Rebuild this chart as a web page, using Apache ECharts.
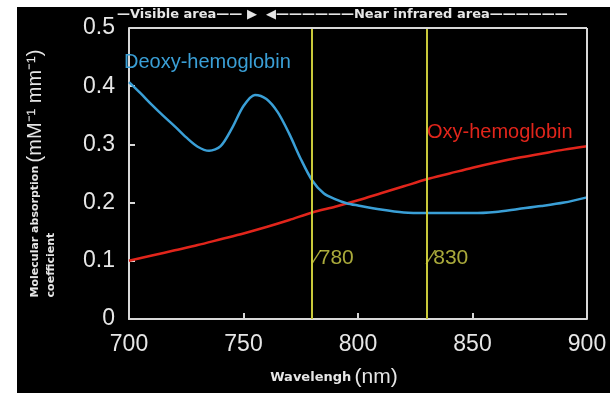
<!DOCTYPE html>
<html>
<head>
<meta charset="utf-8">
<script src="https://cdn.jsdelivr.net/npm/echarts@6/dist/echarts.min.js"></script>
<style>
  html, body { margin: 0; padding: 0; background: #fff; }
  #chart { position: absolute; left: 17px; top: 7px; width: 593px; height: 386px; background: #000; }
</style>
</head>
<body>
<div id="chart"></div>
<script>
// wavelength (nm)
const wlOxy = [700, 710, 720, 730, 740, 750, 760, 770, 780, 790, 800, 810, 820, 830, 840, 850, 860, 870, 880, 890, 900];
const oxyValues = [0.100, 0.109, 0.118, 0.127, 0.137, 0.147, 0.158, 0.170, 0.183, 0.193, 0.204, 0.216, 0.228, 0.240, 0.250, 0.260, 0.269, 0.277, 0.284, 0.291, 0.297];

const wlDeoxy = [700, 705, 710, 715, 720, 725, 730, 735, 740, 745, 750, 755, 760, 765, 770, 775, 780, 785, 790, 795, 800, 810, 820, 830, 840, 850, 860, 870, 880, 890, 900];
const deoxyValues = [0.407, 0.388, 0.368, 0.349, 0.331, 0.312, 0.296, 0.289, 0.297, 0.328, 0.366, 0.385, 0.378, 0.355, 0.318, 0.275, 0.238, 0.216, 0.206, 0.199, 0.195, 0.188, 0.183, 0.182, 0.182, 0.182, 0.184, 0.189, 0.194, 0.200, 0.209];

// marked wavelengths
const markWl = [780, 830];
// 边框上边/右边
const frameTop = 0.5;
const frameRight = 900;

const textColor = '#e6e6e6';
const frameColor = '#d8d8d8';
const yellow = '#c9c93a';
const boldFont = 'DejaVu Sans, sans-serif';

const chart = echarts.init(document.getElementById('chart'));

const option = {
  backgroundColor: '#000',
  animation: false,
  title: [
    {
      // 顶部区域说明
      text: '—Visible area—— ▶  ◀——————Near infrared area——————',
      left: 100, top: 1, padding: 0,
      textStyle: { color: textColor, fontSize: 13, fontWeight: 'bold', fontFamily: boldFont }
    },
    {
      text: 'Deoxy-hemoglobin',
      left: 107, top: 45, padding: 0,
      textStyle: { color: '#3a9fd6', fontSize: 20, fontWeight: 'normal', fontFamily: 'Liberation Sans, sans-serif' }
    },
    {
      text: 'Oxy-hemoglobin',
      left: 410, top: 115, padding: 0,
      textStyle: { color: '#e1251b', fontSize: 20, fontWeight: 'normal', fontFamily: 'Liberation Sans, sans-serif' }
    }
  ],
  grid: { left: 101, right: 23, top: 21, bottom: 74 },
  xAxis: {
    type: 'value', min: 700, max: 900, interval: 50,
    axisLine: { show: true, onZero: false, lineStyle: { color: frameColor, width: 2 } },
    axisTick: { show: true, inside: true, length: 6, lineStyle: { color: frameColor, width: 2 } },
    splitLine: { show: false },
    axisLabel: { color: textColor, fontSize: 23, margin: 14, fontFamily: 'Liberation Sans, Arial, sans-serif' },
    name: '{a|Wavelengh} {b|(nm)}',
    nameLocation: 'middle',
    nameGap: 48,
    nameTextStyle: {
      padding: [0, 48, 0, 0],
      rich: {
        a: { color: textColor, fontSize: 13, fontWeight: 'bold', fontFamily: boldFont },
        b: { color: textColor, fontSize: 21, fontFamily: 'Liberation Sans, sans-serif' }
      }
    }
  },
  yAxis: {
    type: 'value', min: 0, max: 0.5, interval: 0.1,
    axisLine: { show: true, onZero: false, lineStyle: { color: frameColor, width: 2 } },
    axisTick: { show: true, inside: true, length: 6, lineStyle: { color: frameColor, width: 2 } },
    splitLine: { show: false },
    axisLabel: {
      color: textColor, fontSize: 23, margin: 14, fontFamily: 'Liberation Sans, Arial, sans-serif',
      formatter: v => (v === 0 ? '0' : v.toFixed(1))
    },
    name: '{a|Molecular absorption} {b|(mM⁻¹ mm⁻¹)}\n{c|coefficient}',
    nameLocation: 'middle',
    nameRotate: 90,
    nameGap: 72,
    nameTextStyle: {
      rich: {
        a: { color: textColor, fontSize: 11, fontWeight: 'bold', fontFamily: boldFont },
        b: { color: textColor, fontSize: 20, fontFamily: 'Liberation Sans, sans-serif' },
        c: { color: textColor, fontSize: 11, fontWeight: 'bold', fontFamily: boldFont, align: 'left', lineHeight: 12 }
      }
    }
  },
  series: [
    {
      name: 'Oxy-hemoglobin',
      type: 'line',
      data: wlOxy.map((w, i) => [w, oxyValues[i]]),
      smooth: 0.3,
      symbol: 'none',
      lineStyle: { color: '#e1251b', width: 2.5 },
      markLine: {
        silent: true,
        symbol: 'none',
        label: { show: false },
        lineStyle: { color: yellow, width: 2, type: 'solid' },
        data: markWl.map(w => ({ xAxis: w }))
      }
    },
    {
      name: 'Deoxy-hemoglobin',
      type: 'line',
      data: wlDeoxy.map((w, i) => [w, deoxyValues[i]]),
      smooth: 0.3,
      symbol: 'none',
      lineStyle: { color: '#3a9fd6', width: 2.5 },
      markLine: {
        silent: true,
        symbol: 'none',
        label: { show: false },
        lineStyle: { color: frameColor, width: 2, type: 'solid' },
        data: [{ yAxis: frameTop }, { xAxis: frameRight }]
      }
    },
    {
      // 780 / 830 标注文字
      type: 'scatter',
      data: markWl.map(w => [w, 0.105]),
      symbolSize: 0,
      label: {
        show: true,
        position: 'right',
        distance: 3,
        formatter: p => '⁄' + p.value[0],
        color: '#d4d44a',
        fontSize: 21,
        fontFamily: 'Liberation Sans, sans-serif'
      }
    }
  ]
};

chart.setOption(option, true);
</script>
</body>
</html>
